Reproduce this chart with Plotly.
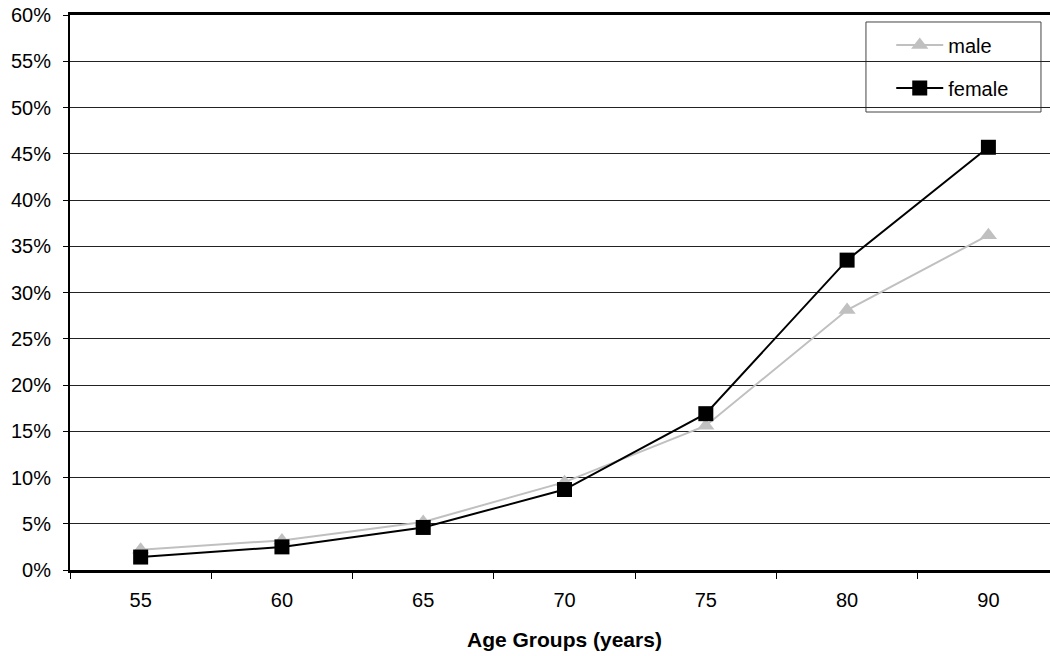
import plotly.graph_objects as go

age_groups = ["55", "60", "65", "70", "75", "80", "90"]
male = [2.2, 3.2, 5.2, 9.5, 15.6, 28.1, 36.2]
female = [1.4, 2.5, 4.6, 8.7, 16.9, 33.5, 45.7]
y_ticks = [0, 5, 10, 15, 20, 25, 30, 35, 40, 45, 50, 55, 60]
y_tick_labels = [f"{v}%" for v in y_ticks]

FONT = "Liberation Sans, Arial, sans-serif"

fig = go.Figure()
fig.add_trace(go.Scatter(
    x=age_groups, y=male, name="male", mode="lines+markers",
    line=dict(color="#C0C0C0", width=2),
    marker=dict(symbol="triangle-up", size=15, color="#C0C0C0"),
    legendgroup="m",
))
fig.add_trace(go.Scatter(
    x=age_groups, y=female, name="female", mode="lines+markers",
    line=dict(color="#000000", width=2),
    marker=dict(symbol="square", size=15, color="#000000"),
    legendgroup="f",
))

fig.update_layout(
    width=1050, height=656,
    margin=dict(l=70, r=0, t=15, b=86, autoexpand=False),
    paper_bgcolor="white", plot_bgcolor="white",
    font=dict(family=FONT, size=20, color="black"),
    showlegend=True,
    legend=dict(
        x=0.838, y=0.981, xanchor="left", yanchor="top",
        bgcolor="rgba(0,0,0,0)", borderwidth=0,
        font=dict(size=20, family=FONT), tracegroupgap=14,
        itemwidth=47,
    ),
    xaxis=dict(
        type="category", range=[-0.5, 6.436], automargin=False,
        showline=True, linecolor="black", linewidth=3, mirror=True,
        ticks="outside", tickson="boundaries", ticklen=6, tickcolor="black",
        showgrid=False, zeroline=False,
        tickfont=dict(size=20, family=FONT), ticklabelstandoff=10,
    ),
    yaxis=dict(
        range=[0, 60], tickvals=y_ticks, ticktext=y_tick_labels, automargin=False,
        showline=True, linecolor="black", linewidth=2,
        ticks="outside", ticklen=5, tickcolor="black",
        showgrid=True, gridcolor="#222222", gridwidth=1,
        zeroline=False, tickfont=dict(size=20, family=FONT),
        ticklabelstandoff=8, ticklabeloverflow="allow",
    ),
    shapes=[dict(
        type="rect", xref="paper", yref="paper",
        x0=0.8122, x1=0.9908, y0=0.8252, y1=0.9874,
        line=dict(color="#444444", width=1), fillcolor="white", layer="below",
    )],
    annotations=[dict(
        x=3, y=0, xref="x", yref="paper", yanchor="top",
        yshift=-56, text="<b>Age Groups (years)</b>", showarrow=False,
        font=dict(size=21, family=FONT),
    )],
)

fig.write_html(
    "out.html",
    config={"displayModeBar": False},
    post_script="document.body.style.margin='0';document.body.style.overflow='hidden';",
)
